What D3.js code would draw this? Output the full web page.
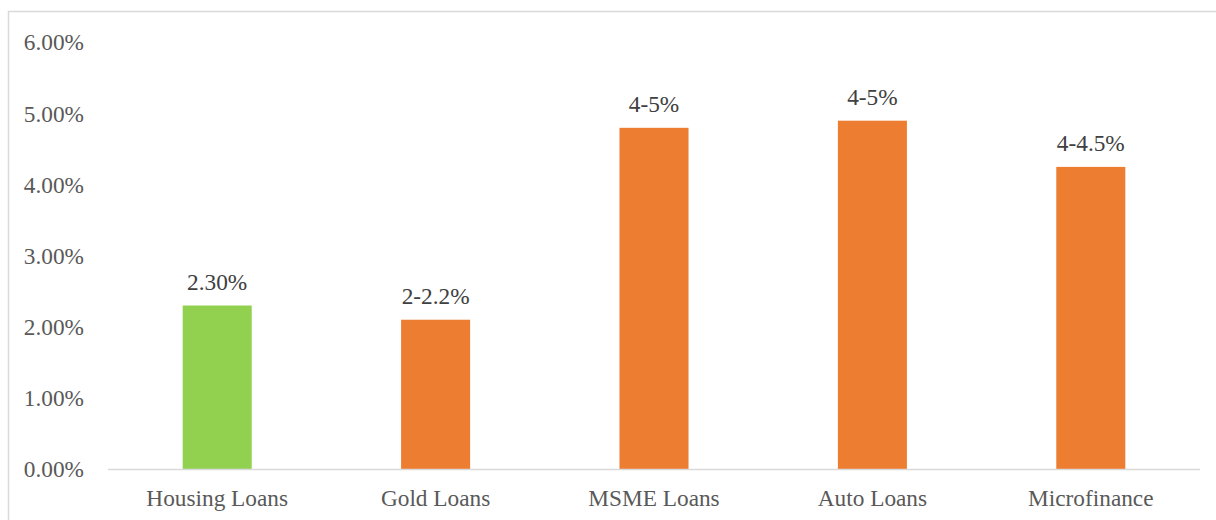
<!DOCTYPE html>
<html><head><meta charset="utf-8">
<script src="https://cdn.jsdelivr.net/npm/d3@7"></script>
<style>body{margin:0;background:#fff;}svg{display:block;}</style>
</head><body>
<svg id="c" width="1216" height="520"></svg>
<script>
const categories = ["Housing Loans","Gold Loans","MSME Loans","Auto Loans","Microfinance"];
const values = [2.3, 2.1, 4.8, 4.9, 4.25];
const labels = ["2.30%","2-2.2%","4-5%","4-5%","4-4.5%"];
const colors = ["#92D050","#ED7D31","#ED7D31","#ED7D31","#ED7D31"];
const yTicks = [0,1,2,3,4,5,6];

const svg = d3.select("#c");
const font = "'Liberation Serif','Times New Roman',serif";
const fs = 23.3;
svg.append("rect").attr("x",8.5).attr("y",11.5).attr("width",1240).attr("height",540)
  .attr("fill","#fff").attr("stroke","#d9d9d9").attr("stroke-width",1.5);

const x = d3.scaleBand().domain(categories).range([108,1200]).paddingInner(0.684).paddingOuter(0.342);
const y = d3.scaleLinear().domain([0,6]).range([469,42.5]);

const yAxis = svg.append("g").attr("transform","translate(84,0)")
  .call(d3.axisLeft(y).tickValues(yTicks).tickSize(0).tickPadding(0).tickFormat(d=>d3.format(".2f")(d)+"%"));
yAxis.select(".domain").remove();
yAxis.selectAll("text").attr("font-family",font).attr("font-size",fs).attr("fill","#595959");

svg.selectAll(".bar").data(values).join("rect")
  .attr("x",(d,i)=>x(categories[i])).attr("width",x.bandwidth())
  .attr("y",d=>y(d)).attr("height",d=>y(0)-y(d)).attr("fill",(d,i)=>colors[i]);

svg.append("line").attr("x1",108).attr("x2",1200).attr("y1",469.5).attr("y2",469.5)
  .attr("stroke","#d9d9d9").attr("stroke-width",1.5);

const xAxis = svg.append("g").attr("transform","translate(0,469)")
  .call(d3.axisBottom(x).tickSize(0).tickPadding(0));
xAxis.select(".domain").remove();
xAxis.selectAll("text").attr("dy",null).attr("y",37).attr("font-family",font).attr("font-size",fs).attr("fill","#595959");

svg.selectAll(".lbl").data(values).join("text")
  .attr("x",(d,i)=>x(categories[i])+x.bandwidth()/2).attr("y",d=>y(d)-16)
  .attr("text-anchor","middle").attr("font-family",font).attr("font-size",fs).attr("fill","#404040")
  .text((d,i)=>labels[i]);
</script>
</body></html>
